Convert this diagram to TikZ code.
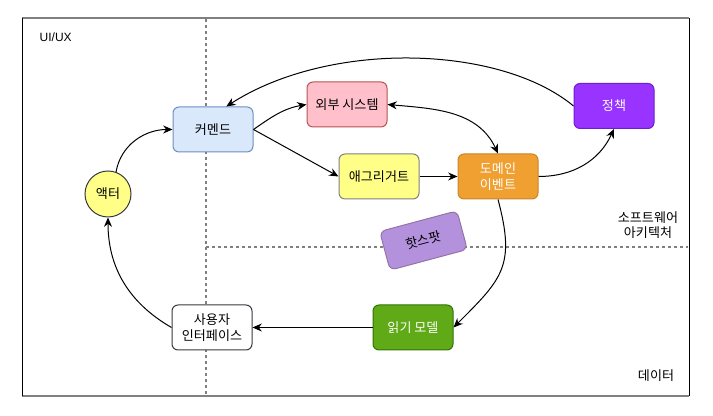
\documentclass[tikz,border=0pt]{standalone}
\usepackage{fontspec}
\setmainfont{Noto Sans CJK KR}
\newfontfamily\latinfont{Liberation Sans}
\usepackage{xcolor}
\usepackage{tikz}
\usetikzlibrary{arrows.meta, positioning, calc}
\definecolor{cmdColor}{HTML}{DAE8FC}
\definecolor{cmdLine}{HTML}{6C8EBF}
\definecolor{extColor}{HTML}{FFC0CB}
\definecolor{extLine}{HTML}{B85450}
\definecolor{policyColor}{HTML}{9933FF}
\definecolor{policyLine}{HTML}{6A1FD0}
\definecolor{aggColor}{HTML}{FFFF88}
\definecolor{darkLine}{HTML}{36393D}
\definecolor{eventColor}{HTML}{F0A030}
\definecolor{eventLine}{HTML}{C8862A}
\definecolor{hotColor}{HTML}{B391DD}
\definecolor{hotLine}{HTML}{9673A6}
\definecolor{readColor}{HTML}{60A917}
\definecolor{readLine}{HTML}{2D7600}
\definecolor{frameGray}{HTML}{808080}

\begin{document}
\begin{tikzpicture}[
        x=0.75pt, y=0.75pt,
        every node/.style={font=\fontsize{9.8}{11.8}\selectfont},
        card/.style={rectangle, draw, rounded corners=4.5pt, minimum width=60pt, minimum height=33.75pt, align=center, inner sep=2pt, line width=0.75pt},
        arrow/.style={-{Stealth[length=7pt, width=6pt]}, line width=0.75pt},
        biarrow/.style={{Stealth[length=7pt, width=6pt]}-{Stealth[length=7pt, width=6pt]}, line width=0.75pt},
        divider/.style={gray, line width=1pt, dash pattern=on 2.25pt off 2.25pt}
    ]
        \useasboundingbox (0,0) rectangle (713,416);

        % Frame and dividers
        \draw[frameGray, line width=1.5pt] (22,398) -- (689,398);
        \draw[frameGray, line width=1.5pt] (22,20) -- (689,20);
        \draw[black, line width=0.75pt] (22,398) -- (22,20);
        \draw[black, line width=0.75pt] (689,398) -- (689,20);
        \draw[divider] (206,397) -- (206,21);
        \draw[divider] (206,169) -- (688,169);

        % Area labels
        \node[anchor=west, font=\latinfont\fontsize{9}{11}\selectfont] (uiux) at (35,379) {UI/UX};
        \node[align=center] (swarch) at (648,191) {소프트웨어\\아키텍처};
        \node (data) at (656,40) {데이터};

        % Nodes
        \node[card, fill=cmdColor, draw=cmdLine] (cmd) at (213,286.5) {커멘드};
        \node[card, fill=extColor, draw=extLine] (ext) at (347,311.5) {외부 시스템};
        \node[card, fill=policyColor, draw=policyLine, text=white] (policy) at (614,310) {정책};
        \node[card, fill=aggColor, draw=gray] (agg) at (379,239.5) {애그리거트};
        \node[card, fill=eventColor, draw=eventLine, text=white, right=28.5pt of agg] (event) {도메인\\이벤트};
        \node[circle, draw=darkLine, fill=aggColor, minimum size=34.5pt, inner sep=0pt, line width=0.75pt] (actor) at (108,222) {액터};
        \node[card, fill=hotColor, draw=hotLine, rotate=15, minimum height=30pt] (hot) at (423.5,175.5) {핫스팟};
        \node[card, fill=readColor, draw=readLine, text=white] (read) at (413,88.5) {읽기 모델};
        \node[card, fill=white, draw=darkLine, left=90pt of read] (ui) {사용자\\인터페이스};

        % Connectors
        \draw[arrow] (actor.70) to[out=80, in=180] (cmd.west);
        \draw[arrow] (cmd.east) to[out=35, in=190] (ext.west);
        \draw[arrow] (cmd.east) -- (agg.west);
        \draw[arrow] (policy.west) .. controls (500,371) and (330,376) .. (cmd.60);
        \draw[biarrow] (ext.east) to[out=-5, in=115] (event.north);
        \draw[arrow] (agg) -- (event);
        \draw[arrow] (event.east) to[out=0, in=-115] (policy.south);
        \draw[arrow] (event.south) to[out=-75, in=45, looseness=1.3] (read.east);
        \draw[arrow] (read) -- (ui);
        \draw[arrow] (ui.west) to[out=150, in=-90] (actor.south);
    \end{tikzpicture}
\end{document}
